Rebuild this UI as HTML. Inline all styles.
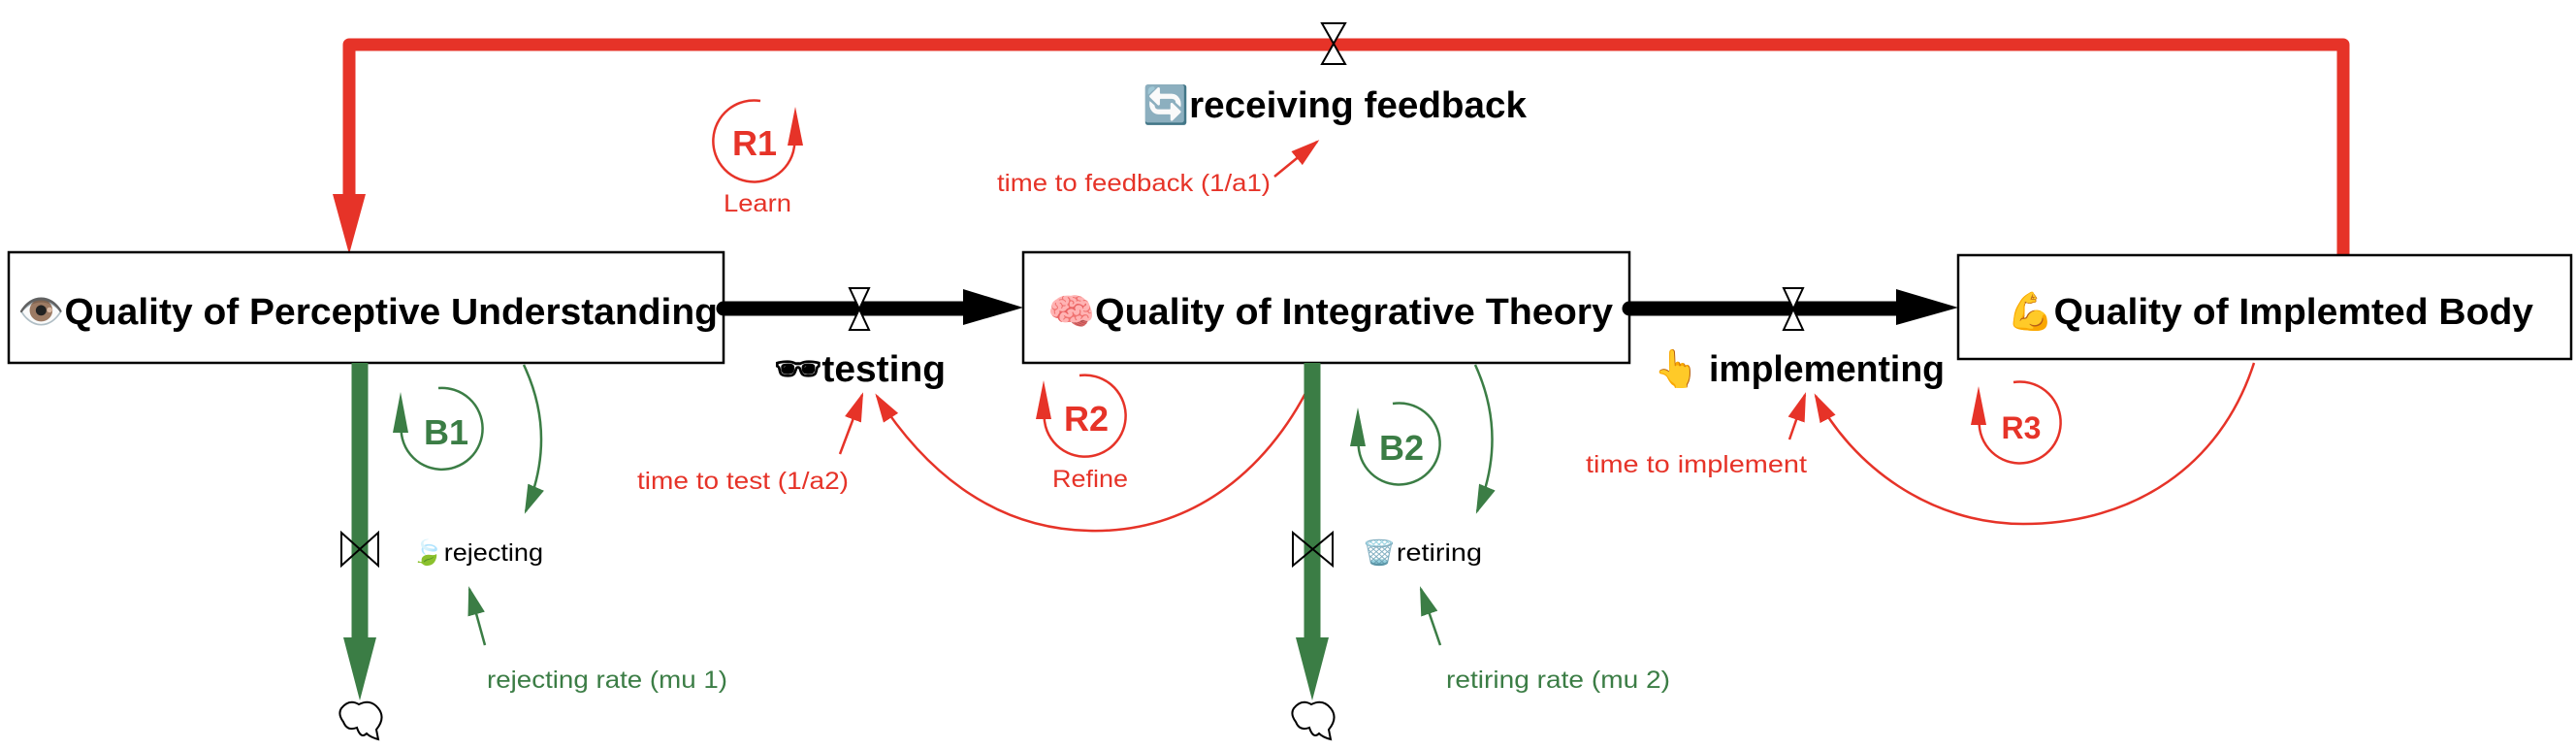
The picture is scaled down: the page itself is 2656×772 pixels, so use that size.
<!DOCTYPE html>
<html><head><meta charset="utf-8"><style>
html,body{margin:0;padding:0;background:#fff;}
svg{display:block;}
text{font-family:"Liberation Sans","DejaVu Sans",sans-serif;}
</style></head><body>
<svg width="2656" height="772" viewBox="0 0 2656 772" xmlns="http://www.w3.org/2000/svg">
<defs>
<marker id="ar2" viewBox="0 0 10 10" refX="9" refY="5" markerWidth="30" markerHeight="30" markerUnits="userSpaceOnUse" orient="auto"><path d="M0,2 L10,5 L0,8 z" fill="#e63328"/></marker>
<marker id="ag" viewBox="0 0 10 10" refX="9" refY="5" markerWidth="30" markerHeight="30" markerUnits="userSpaceOnUse" orient="auto"><path d="M0,2 L10,5 L0,8 z" fill="#3b7d45"/></marker>
</defs>

<path d="M2416,262 L2416,46 L360,46 L360,205" fill="none" stroke="#e63328" stroke-width="13" stroke-linejoin="round" stroke-linecap="round"/>
<polygon points="343,200 377,200 360,262" fill="#e63328"/>
<polygon points="1363,24 1387,24 1363,66 1387,66" fill="#fff" stroke="#000" stroke-width="2"/>
<text x="1178" y="121" font-size="38" font-weight="bold" fill="#000" textLength="396" lengthAdjust="spacingAndGlyphs">🔄receiving feedback</text>

<path d="M784,104 A42,42 0 1 0 819,140" fill="none" stroke="#e63328" stroke-width="2.5"/>
<polygon points="812,150 828,150 820,110" fill="#e63328"/>
<text x="778" y="160" font-size="36" font-weight="bold" fill="#e63328" text-anchor="middle">R1</text>
<text x="746" y="218" font-size="25" fill="#e63328" textLength="70" lengthAdjust="spacingAndGlyphs">Learn</text>

<text x="1028" y="197" font-size="25" fill="#e63328" textLength="282" lengthAdjust="spacingAndGlyphs">time to feedback (1/a1)</text>
<line x1="1314" y1="182" x2="1358" y2="146" stroke="#e63328" stroke-width="2.5" marker-end="url(#ar2)"/>

<rect x="9" y="260" width="737" height="114" fill="#fff" stroke="#000" stroke-width="2.5"/>
<text x="18" y="334" font-size="38" font-weight="bold" fill="#000" textLength="722" lengthAdjust="spacingAndGlyphs">👁️Quality of Perceptive Understanding</text>
<rect x="1055" y="260" width="625" height="114" fill="#fff" stroke="#000" stroke-width="2.5"/>
<text x="1080" y="334" font-size="38" font-weight="bold" fill="#000" textLength="583" lengthAdjust="spacingAndGlyphs">🧠Quality of Integrative Theory</text>
<rect x="2019" y="263" width="632" height="107" fill="#fff" stroke="#000" stroke-width="2.5"/>
<text x="2069" y="334" font-size="38" font-weight="bold" fill="#000" textLength="543" lengthAdjust="spacingAndGlyphs">💪Quality of Implemted Body</text>

<line x1="746" y1="318" x2="995" y2="318" stroke="#000" stroke-width="15" stroke-linecap="round"/>
<polygon points="993,298 1055,317 993,335" fill="#000"/>
<polygon points="876,297 896,297 876,340 896,340" fill="#fff" stroke="#000" stroke-width="2"/>
<text x="798" y="393" font-size="38" font-weight="bold" fill="#000" textLength="177" lengthAdjust="spacingAndGlyphs">🕶testing</text>

<line x1="1680" y1="318" x2="1957" y2="318" stroke="#000" stroke-width="15" stroke-linecap="round"/>
<polygon points="1955,298 2019,317 1955,335" fill="#000"/>
<polygon points="1839,297 1859,297 1839,340 1859,340" fill="#fff" stroke="#000" stroke-width="2"/>
<text x="1705" y="393" font-size="38" font-weight="bold" fill="#000" textLength="300" lengthAdjust="spacingAndGlyphs">👆 implementing</text>

<line x1="371" y1="374" x2="371" y2="662" stroke="#3b7d45" stroke-width="17"/>
<polygon points="354,657 388,657 371,722" fill="#3b7d45"/>
<polygon points="352,549 352,583 390,549 390,583" fill="none" stroke="#000" stroke-width="2"/>
<path d="M352,730 q8,-10 18,-4 q12,-6 20,4 q8,10 -2,22 l2,10 q-8,-2 -12,-6 q-6,6 -10,-6 q-10,4 -14,-6 q-6,-8 -2,-14z" fill="#fff" stroke="#000" stroke-width="2"/>
<text x="424" y="578" font-size="25" fill="#000" textLength="136" lengthAdjust="spacingAndGlyphs">🍃rejecting</text>

<path d="M452,400 A42,42 0 1 1 414,436" fill="none" stroke="#3b7d45" stroke-width="2.5"/>
<polygon points="405,446 421,446 413,404" fill="#3b7d45"/>
<text x="460" y="458" font-size="36" font-weight="bold" fill="#3b7d45" text-anchor="middle">B1</text>
<path d="M540,376 Q575,450 542,527" fill="none" stroke="#3b7d45" stroke-width="2.5" marker-end="url(#ag)"/>
<text x="502" y="709" font-size="25" fill="#3b7d45" textLength="248" lengthAdjust="spacingAndGlyphs">rejecting rate (mu 1)</text>
<line x1="500" y1="665" x2="484" y2="607" stroke="#3b7d45" stroke-width="2.5" marker-end="url(#ag)"/>

<text x="657" y="504" font-size="25" fill="#e63328" textLength="218" lengthAdjust="spacingAndGlyphs">time to test (1/a2)</text>
<line x1="866" y1="468" x2="889" y2="407" stroke="#e63328" stroke-width="2.5" marker-end="url(#ar2)"/>
<path d="M1359,378 C1320,470 1240,550 1123,547 C1020,545 950,480 904,408" fill="none" stroke="#e63328" stroke-width="2.5" marker-end="url(#ar2)"/>

<path d="M1113,387 A42,42 0 1 1 1077,423" fill="none" stroke="#e63328" stroke-width="2.5"/>
<polygon points="1068,432 1084,432 1076,392" fill="#e63328"/>
<text x="1120" y="444" font-size="36" font-weight="bold" fill="#e63328" text-anchor="middle">R2</text>
<text x="1085" y="502" font-size="25" fill="#e63328" textLength="78" lengthAdjust="spacingAndGlyphs">Refine</text>

<line x1="1353" y1="374" x2="1353" y2="662" stroke="#3b7d45" stroke-width="17"/>
<polygon points="1336,657 1370,657 1353,722" fill="#3b7d45"/>
<polygon points="1333,549 1333,583 1374,549 1374,583" fill="none" stroke="#000" stroke-width="2"/>
<path d="M1334,730 q8,-10 18,-4 q12,-6 20,4 q8,10 -2,22 l2,10 q-8,-2 -12,-6 q-6,6 -10,-6 q-10,4 -14,-6 q-6,-8 -2,-14z" fill="#fff" stroke="#000" stroke-width="2"/>
<text x="1404" y="578" font-size="25" fill="#000" textLength="124" lengthAdjust="spacingAndGlyphs">🗑️retiring</text>

<path d="M1436,416 A42,42 0 1 1 1401,452" fill="none" stroke="#3b7d45" stroke-width="2.5"/>
<polygon points="1392,460 1408,460 1400,420" fill="#3b7d45"/>
<text x="1445" y="474" font-size="36" font-weight="bold" fill="#3b7d45" text-anchor="middle">B2</text>
<path d="M1521,376 Q1555,450 1523,527" fill="none" stroke="#3b7d45" stroke-width="2.5" marker-end="url(#ag)"/>
<text x="1491" y="709" font-size="25" fill="#3b7d45" textLength="231" lengthAdjust="spacingAndGlyphs">retiring rate (mu 2)</text>
<line x1="1485" y1="665" x2="1465" y2="607" stroke="#3b7d45" stroke-width="2.5" marker-end="url(#ag)"/>

<text x="1635" y="487" font-size="25" fill="#e63328" textLength="228" lengthAdjust="spacingAndGlyphs">time to implement</text>
<line x1="1845" y1="453" x2="1861" y2="407" stroke="#e63328" stroke-width="2.5" marker-end="url(#ar2)"/>
<path d="M2324,374 C2290,480 2200,540 2086,540 C1990,540 1910,480 1872,408" fill="none" stroke="#e63328" stroke-width="2.5" marker-end="url(#ar2)"/>

<path d="M2076,394 A42,42 0 1 1 2041,430" fill="none" stroke="#e63328" stroke-width="2.5"/>
<polygon points="2032,438 2048,438 2040,398" fill="#e63328"/>
<text x="2084" y="452" font-size="32" font-weight="bold" fill="#e63328" text-anchor="middle">R3</text>
</svg>
</body></html>
